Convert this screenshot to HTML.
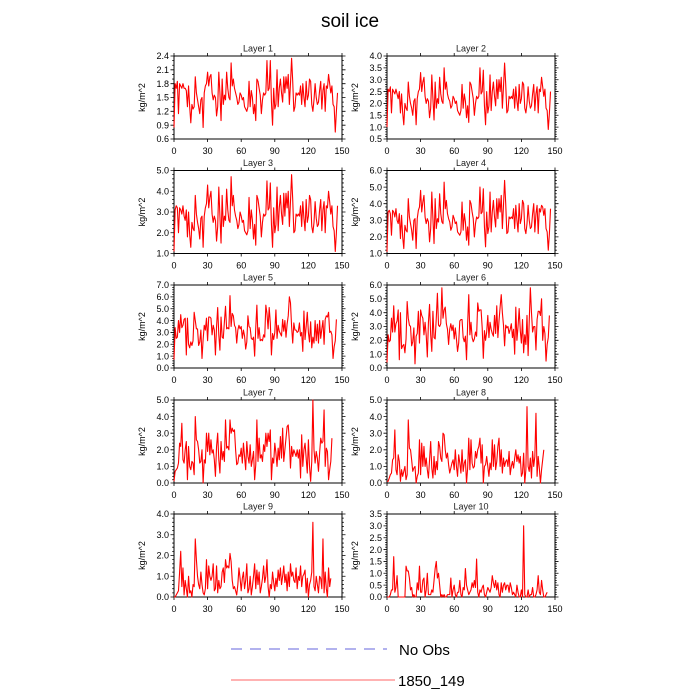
<!DOCTYPE html>
<html><head><meta charset="utf-8">
<style>
html,body{margin:0;padding:0;background:#fff;}
svg{display:block;font-family:"Liberation Sans",Arial,sans-serif;}
</style></head>
<body>
<svg id="chart" width="700" height="700" viewBox="0 0 700 700">
<text x="350" y="27" text-anchor="middle" font-size="19">soil ice</text>
<g id="panels"></g>
<g>
<line x1="231" y1="649" x2="387" y2="649" stroke="#6666dd" stroke-width="1" stroke-dasharray="11,8"/>
<text x="399" y="655" font-size="15">No Obs</text>
<line x1="231" y1="680" x2="395" y2="680" stroke="#ff6666" stroke-width="1"/>
<text x="398" y="686" font-size="15">1850_149</text>
</g>
</svg>
<script>
const layerNames=["Layer 1","Layer 2","Layer 3","Layer 4","Layer 5","Layer 6","Layer 7","Layer 8","Layer 9","Layer 10"];
const yMins=[0.6,0.5,1.0,1.0,0,0,0,0,0,0];
const yMaxs=[2.4,4.0,5.0,6.0,7,6,5,5,4,3.5];
const ySteps=[0.3,0.5,1,1,1,1,1,1,1,0.5];
const xTicks=[0,30,60,90,120,150];
const L1=[0.85,1.8,1.7,1.85,1.15,1.8,1.75,1.7,1.8,1.7,1.7,1.65,1.3,1.75,1.3,0.95,1.35,1.25,1.3,1.95,1.6,1.45,1.3,1.15,1.45,1.5,0.85,1.6,1.75,1.8,2.05,1.75,1.95,2.0,1.6,1.45,1.55,1.5,1.1,1.3,2.05,1.6,1.0,1.9,1.35,1.55,1.45,2.05,1.7,1.5,1.45,2.25,1.75,1.9,1.7,1.6,1.5,1.35,1.4,1.6,1.55,1.45,1.5,1.3,1.25,1.2,1.3,1.85,1.3,1.65,1.5,1.15,1.35,1.0,1.9,1.85,1.7,1.55,1.15,1.45,1.6,1.55,1.6,2.3,1.65,1.7,2.3,1.4,0.9,1.7,1.25,1.35,2.1,1.3,1.7,1.9,1.6,1.4,1.95,1.6,1.95,1.7,2.0,1.35,1.8,2.35,1.85,1.2,1.3,1.6,1.55,1.6,1.55,1.75,1.35,1.8,1.5,1.3,1.85,1.45,1.55,1.9,1.85,1.35,1.2,1.45,1.8,1.5,1.35,1.4,1.65,1.85,1.25,1.65,1.8,1.2,1.75,1.7,2.0,1.8,1.6,1.75,1.35,1.3,0.75,1.2,1.6];
const L2=[1.0,2.6,2.5,2.7,1.6,2.6,2.5,2.4,2.6,2.4,2.2,2.5,1.6,2.4,1.6,1.1,2.0,1.8,1.7,2.9,2.3,2.0,1.8,1.5,2.1,2.2,1.1,2.2,2.5,2.6,3.3,2.5,2.9,3.1,2.3,2.0,2.2,2.1,1.4,1.8,3.2,2.2,1.3,2.9,1.8,2.2,2.0,3.1,2.4,2.1,2.0,3.5,2.6,2.9,2.4,2.2,2.1,1.8,1.9,2.3,2.2,2.0,2.1,1.7,1.6,1.5,1.7,2.8,1.8,2.4,2.1,1.4,1.9,1.2,2.9,2.8,2.5,2.2,1.5,2.0,2.3,2.2,2.3,3.5,2.4,2.5,3.4,1.9,1.1,2.5,1.6,1.9,3.2,1.7,2.5,2.9,2.3,1.9,3.0,2.2,3.0,2.5,3.1,1.8,2.7,3.7,2.8,1.6,1.7,2.3,2.2,2.3,2.2,2.6,1.8,2.7,2.1,1.7,2.8,2.0,2.2,2.9,2.8,1.8,1.6,2.0,2.7,2.1,1.8,1.9,2.4,2.8,1.7,2.4,2.7,1.6,2.6,2.5,3.1,2.7,2.3,2.6,1.8,1.7,0.9,1.6,2.5];
const L3=[1.1,3.1,3.3,3.2,2.0,3.2,3.1,2.9,3.3,2.8,2.6,3.1,1.8,3.0,1.9,1.3,2.5,2.2,2.1,3.8,2.9,2.5,2.2,1.7,2.7,2.8,1.3,2.8,3.2,3.4,4.3,3.2,3.7,4.0,2.9,2.5,2.8,2.6,1.6,2.3,4.2,2.8,1.5,3.8,2.3,2.8,2.6,4.1,3.1,2.6,2.5,4.7,3.3,3.8,3.1,2.8,2.6,2.2,2.4,3.0,2.8,2.5,2.6,2.1,2.0,1.9,2.1,3.7,2.2,3.1,2.6,1.7,2.4,1.4,3.8,3.6,3.2,2.8,1.8,2.5,2.9,2.8,2.9,4.5,3.1,3.2,4.4,2.4,1.3,3.2,2.0,2.4,4.2,2.1,3.2,3.8,2.9,2.4,3.9,2.8,3.9,3.2,4.0,2.3,3.5,4.8,3.6,2.0,2.1,2.9,2.8,2.9,2.8,3.3,2.3,3.5,2.7,2.1,3.6,2.5,2.8,3.8,3.6,2.3,2.0,2.5,3.5,2.7,2.3,2.4,3.1,3.6,2.1,3.1,3.5,2.0,3.3,3.2,4.0,3.5,2.9,3.3,2.3,2.1,1.1,2.0,3.3];
const L4=[1.1,3.5,3.6,3.4,2.1,3.6,3.5,3.2,3.7,3.0,2.8,3.4,1.9,3.3,2.0,1.3,2.7,2.4,2.3,4.3,3.2,2.8,2.4,1.8,3.0,3.1,1.3,3.1,3.6,3.8,4.8,3.5,4.1,4.5,3.2,2.8,3.1,2.9,1.7,2.5,4.7,3.1,1.6,4.3,2.5,3.1,2.9,4.6,3.4,2.9,2.8,5.3,3.7,4.2,3.4,3.1,2.9,2.4,2.6,3.3,3.1,2.8,2.9,2.3,2.2,2.1,2.3,4.1,2.4,3.4,2.9,1.8,2.6,1.5,4.2,4.0,3.5,3.1,2.0,2.8,3.2,3.1,3.2,5.0,3.4,3.5,4.9,2.6,1.4,3.5,2.2,2.6,4.7,2.3,3.5,4.2,3.2,2.6,4.3,3.1,4.3,3.5,4.5,2.5,3.9,5.4,4.0,2.2,2.3,3.2,3.1,3.2,3.1,3.7,2.5,3.9,3.0,2.3,4.0,2.8,3.1,4.2,4.0,2.5,2.2,2.8,3.9,3.0,2.5,2.6,3.4,4.0,2.3,3.4,3.9,2.2,3.7,3.5,3.9,3.8,3.3,3.7,2.5,2.3,1.2,2.2,3.7];
const L5=[0.7,3.4,2.5,2.6,4.0,3.0,4.5,3.4,3.6,4.1,4.2,1.1,4.2,2.0,1.7,2.2,1.9,2.3,4.7,4.0,3.3,3.3,1.9,2.2,3.2,0.8,2.4,3.6,3.2,4.2,2.3,4.3,4.3,4.2,2.8,3.6,3.2,1.1,3.5,5.1,2.8,1.5,4.3,2.6,2.5,3.9,5.2,3.3,3.4,3.3,6.1,3.5,4.6,4.4,3.6,3.4,2.1,3.2,3.6,3.3,3.5,2.5,3.2,2.7,1.6,2.2,4.4,3.5,3.4,2.5,2.4,2.6,1.0,3.4,5.3,2.5,3.4,2.3,2.4,2.3,2.8,2.6,5.3,4.6,3.3,5.1,3.8,1.1,2.9,2.4,3.0,4.9,2.5,3.6,3.1,2.9,2.7,4.1,3.1,4.0,2.6,3.7,4.4,6.0,5.5,3.5,2.1,3.8,3.2,3.2,3.0,3.1,3.8,2.7,3.0,1.4,4.8,2.4,3.5,4.7,3.0,2.2,3.9,1.7,2.6,2.1,4.0,2.3,3.7,2.1,4.0,2.5,3.3,4.0,2.0,4.1,4.4,4.3,4.7,3.0,3.1,2.8,0.8,1.8,2.3,4.1];
const L6=[0.4,2.4,1.9,2.0,3.6,2.6,4.5,2.6,3.2,3.4,4.2,0.6,4.0,1.4,1.6,1.7,1.1,2.1,4.8,3.6,3.1,3.0,1.6,1.9,2.9,0.3,2.3,2.5,4.1,1.8,4.2,3.8,3.6,2.4,3.3,2.4,0.8,3.3,4.6,2.4,1.2,4.1,2.2,2.1,3.6,5.4,3.1,3.0,3.2,5.8,3.6,4.2,4.4,3.2,2.8,1.7,2.8,3.2,2.7,3.1,2.1,2.9,2.1,1.2,1.8,3.4,3.5,3.5,2.2,1.9,2.3,0.6,3.2,5.3,2.4,3.3,2.2,1.9,2.1,2.6,2.3,4.7,4.1,4.2,4.2,2.9,0.7,2.7,2.0,2.6,3.8,2.2,3.3,2.8,2.5,2.3,3.8,2.5,4.5,2.2,3.4,4.4,5.3,4.0,3.1,1.6,3.1,2.9,3.0,2.5,2.8,3.2,2.2,2.8,1.0,4.4,2.0,3.0,4.3,2.7,1.8,3.5,1.1,2.4,1.7,3.8,0.9,3.4,5.8,4.0,2.6,3.0,3.0,1.3,3.5,4.1,4.1,3.8,5.0,2.0,3.0,2.5,0.5,1.7,2.2,3.8];
const L7=[0.1,0.7,0.8,0.9,1.2,2.4,2.2,3.6,1.4,1.2,2.0,2.5,0.2,2.2,1.0,0.8,1.3,1.2,0.5,4.0,2.6,2.5,2.0,1.2,1.3,2.0,0.0,1.4,1.2,3.0,1.9,3.0,1.7,2.6,1.8,2.0,1.4,0.4,2.2,3.0,1.4,0.6,2.5,1.4,1.9,1.3,3.8,2.1,2.2,2.0,3.8,3.0,3.3,3.1,3.2,2.0,1.1,1.2,1.7,1.6,2.1,1.2,2.4,1.6,0.8,2.5,1.6,1.2,2.3,1.0,1.4,1.9,0.2,1.1,3.8,1.3,2.7,1.5,1.7,1.3,2.3,1.9,3.0,2.2,3.0,2.5,3.2,0.2,1.5,1.2,2.4,1.8,1.0,2.1,1.4,2.8,1.5,3.3,1.3,2.0,2.7,3.4,3.5,2.5,0.9,2.2,1.6,2.0,1.8,1.6,2.0,1.5,2.0,0.3,2.9,1.0,2.0,2.4,1.5,0.6,2.6,1.0,0.1,1.3,5.0,2.0,1.2,1.9,1.5,0.7,1.8,2.7,2.4,2.5,4.4,1.0,2.1,1.9,0.2,0.8,1.3,2.7];
const L8=[0.1,0.1,0.3,0.5,0.6,1.4,1.5,3.2,0.8,0.5,1.7,1.3,0.1,0.8,0.4,0.7,1.0,0.2,0.5,3.8,2.1,2.0,1.4,0.7,0.9,1.0,0.0,0.4,0.6,2.6,0.5,2.4,1.0,2.2,1.0,1.5,0.8,0.3,1.4,2.5,0.9,0.3,1.6,0.5,1.3,0.8,2.5,2.2,1.5,1.3,3.0,2.9,2.0,1.5,1.8,1.1,0.6,0.9,1.2,1.4,0.8,2.0,1.0,0.4,1.7,1.2,0.6,2.0,0.7,1.2,1.4,0.0,0.9,2.7,0.8,2.6,1.2,0.9,1.0,1.9,1.5,2.0,2.2,2.7,1.2,2.3,0.0,1.0,1.1,1.6,1.0,0.4,1.2,0.8,2.6,1.0,2.3,0.8,1.3,2.2,2.7,1.0,2.0,0.6,1.5,1.0,1.3,1.4,1.0,1.9,0.5,1.0,1.3,0.9,1.5,2.0,1.3,1.7,1.2,1.6,0.4,0.6,1.8,0.0,0.8,4.6,1.0,0.7,1.5,0.3,1.9,1.0,1.6,4.2,0.4,1.6,0.9,0.0,0.8,1.4,2.0];
const L9=[0.0,0.0,0.1,0.2,0.3,1.2,2.2,0.5,1.4,0.1,0.8,0.4,0.0,1.0,0.2,0.3,0.0,0.6,0.5,2.8,1.8,1.0,0.6,0.4,1.2,0.6,0.2,0.1,0.4,1.8,0.4,1.5,1.0,0.8,1.0,1.6,0.3,0.4,1.5,0.2,0.8,0.4,0.5,1.2,1.4,0.7,1.8,1.4,1.5,1.4,2.1,1.7,0.8,0.4,0.5,0.3,0.1,0.6,1.4,0.9,0.3,0.9,1.2,0.4,0.8,1.6,0.2,0.4,1.0,0.1,0.5,1.0,1.6,0.4,1.3,0.6,1.2,0.2,0.5,0.9,1.5,0.7,1.0,1.8,0.5,0.0,0.6,0.4,1.2,0.7,0.3,0.9,0.5,1.3,0.8,1.4,0.6,1.0,1.5,0.7,1.1,0.3,1.2,0.5,1.6,1.0,1.2,0.8,0.7,1.4,0.4,1.0,0.8,1.5,0.5,1.0,1.1,1.3,0.2,0.9,0.0,0.6,0.8,1.2,3.6,0.5,0.3,1.0,0.6,0.2,1.0,0.9,0.4,2.8,0.2,1.2,0.4,0.0,1.4,0.5,0.9];
const L10=[0.0,0.0,0.0,0.1,0.3,0.3,1.7,0.2,0.4,0.9,0.0,0.0,0.0,0.0,0.0,0.0,0.0,1.3,1.1,1.1,0.8,0.3,0.4,0.0,0.1,0.0,0.0,0.6,0.3,1.3,0.2,0.2,0.7,0.8,0.0,0.3,1.0,0.1,0.1,0.1,0.3,0.2,0.7,1.2,1.5,0.8,1.0,0.5,0.0,0.1,0.0,0.1,0.0,0.0,0.1,0.1,0.1,0.8,0.0,0.3,0.5,0.1,0.0,0.2,0.2,0.7,0.1,0.0,0.4,0.3,1.2,0.5,0.3,0.1,0.2,0.3,0.6,0.4,0.7,0.4,1.6,0.2,0.0,0.3,0.2,0.4,0.5,0.1,0.0,0.2,0.4,0.3,0.2,0.4,0.9,0.6,0.4,0.7,0.3,0.6,0.1,0.0,0.6,0.2,0.5,0.6,0.3,0.5,0.5,0.2,0.6,0.4,0.1,0.2,0.1,0.0,0.5,0.2,0.0,0.0,0.3,0.0,3.0,0.1,0.0,0.0,0.3,0.0,0.1,0.1,0.4,0.0,0.0,0.1,0.3,0.9,0.2,0.1,0.7,0.3,0.0,0.0,0.1,0.2];
const series=[L1,L2,L3,L4,L5,L6,L7,L8,L9,L10];

const NS="http://www.w3.org/2000/svg";
const root=document.getElementById('panels');
const colX=[174,387], pw=168, ph=83;
const rowY=[56,170.5,285,400,514];
function mk(tag,attrs,parent){const e=document.createElementNS(NS,tag);for(const k in attrs)e.setAttribute(k,attrs[k]);parent.appendChild(e);return e;}
for(let i=0;i<10;i++){
  const x0=colX[i%2], y0=rowY[Math.floor(i/2)];
  const ymin=yMins[i], ymax=yMaxs[i], step=ySteps[i];
  const sx=v=>x0+v/150*pw;
  const sy=v=>y0+ph-(v-ymin)/(ymax-ymin)*ph;
  const g=mk('g',{},root);
  
  
  const t=mk('text',{x:x0+pw/2,y:y0-4.5,'text-anchor':'middle','font-size':'9','fill':'#222'},g);
  t.textContent=layerNames[i];
  
  
  const yl=mk('text',{transform:`translate(${x0-29},${y0+ph/2}) rotate(-90)`,'text-anchor':'middle','font-size':'9'},g);
  yl.textContent='kg/m^2';
  
  
  let d='';
  for(let v=0;v<=150;v+=30){const X=sx(v);d+=`M${X},${y0+ph}v3M${X},${y0}v-3`;}
  const nMaj=Math.round((ymax-ymin)/step);
  const minor=step/((step===0.3)?3:5);
  const nMin=Math.round((ymax-ymin)/minor);
  for(let k=0;k<=nMin;k++){const Y=sy(ymin+k*minor);d+=`M${x0},${Y}h-1.8M${x0+pw},${Y}h1.8`;}
  for(let k=0;k<=nMaj;k++){const v=ymin+k*step;const Y=sy(v);d+=`M${x0},${Y}h-3.5M${x0+pw},${Y}h3.5`;
    const tl=mk('text',{x:x0-5,y:Y+3.2,'text-anchor':'end','font-size':'9'},g);
    tl.textContent=v.toFixed(1);
    
    }
  xTicks.forEach(v=>{const tl=mk('text',{x:sx(v),y:y0+ph+15,'text-anchor':'middle','font-size':'9'},g);
    tl.textContent=String(v);
    
    });
  const tk=mk('path',{d:d,stroke:'#000','stroke-width':'0.8',fill:'none'},g);
  
  
  const fr=mk('rect',{x:x0,y:y0,width:pw,height:ph,fill:'none',stroke:'#000','stroke-width':'1'},g);
  
  
  const pts=series[i].map((v,j)=>sx(j).toFixed(2)+','+sy(v).toFixed(2)).join(' ');
  const ln=mk('polyline',{points:pts,fill:'none',stroke:'#ff0000','stroke-width':'1.1','stroke-linejoin':'round'},g);
  
  
}
</script>
</body></html>
